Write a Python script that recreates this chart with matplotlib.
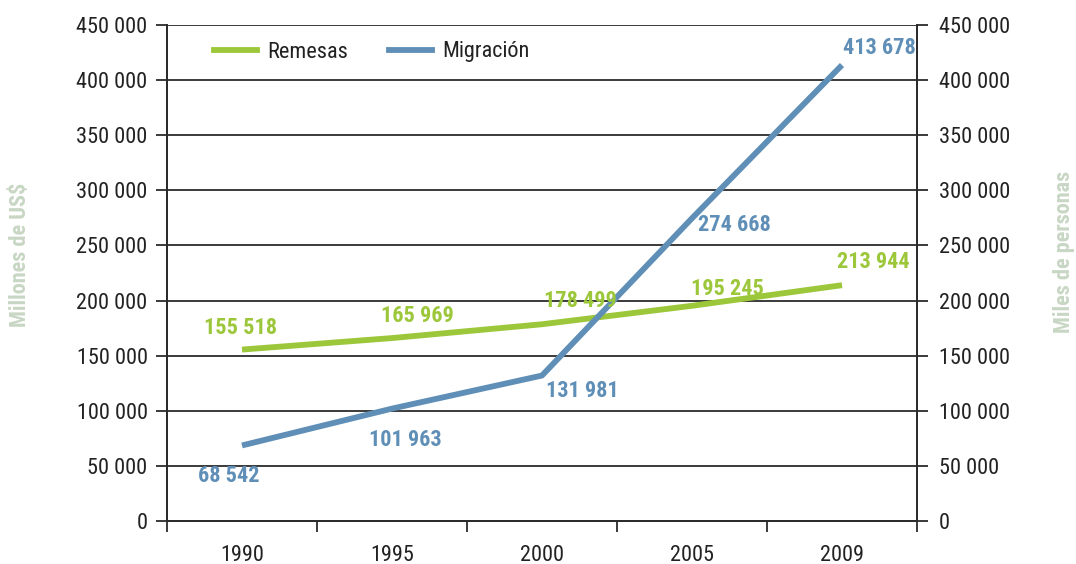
import matplotlib
matplotlib.use("Agg")
import matplotlib.pyplot as plt
from matplotlib.ticker import FuncFormatter, FixedLocator
from matplotlib.lines import Line2D

plt.rcParams['font.family'] = ['Roboto Condensed', 'DejaVu Sans']

years = ["1990", "1995", "2000", "2005", "2009"]
remesas = [155518, 165969, 178499, 195245, 213944]
migracion = [68542, 101963, 131981, 274668, 413678]
yticks = [0, 50000, 100000, 150000, 200000, 250000, 300000, 350000, 400000, 450000]

GREEN = "#9cc73a"
BLUE = "#5f8fb7"
AXLBL = "#c8d6c4"
GRID = "#2b2b2b"
TXT = "#222222"

def fmt(v, pos=None):
    return f"{int(v):,}".replace(",", " ")

W, H = 1076, 564
fig = plt.figure(figsize=(W / 100, H / 100), dpi=100)
ax = fig.add_axes([167 / W, 1 - 521 / H, 750 / W, 496 / H])
ax2 = ax.twinx()

x = list(range(len(years)))
ax.set_xlim(-0.5, len(years) - 0.5)
ax.set_ylim(0, 450000)
ax2.set_ylim(0, 450000)

for yv in yticks[1:]:
    ax.axhline(yv, color=GRID, lw=1.3, zorder=1)

ax.plot(x, remesas, color=GREEN, lw=4.2, solid_capstyle='butt', zorder=3)
ax.plot(x, migracion, color=BLUE, lw=4.2, solid_capstyle='butt', zorder=3)

g_off = [(-2, 22), (25, 22), (38, 23), (35, 17), (31, 23)]
b_off = [(-13, -31), (13, -31), (40, -15), (42, -7), (37, 17)]
for i in x:
    ax.annotate(fmt(remesas[i]), (i, remesas[i]), xytext=g_off[i], textcoords='offset pixels',
                ha='center', va='center', color=GREEN, fontsize=16, fontweight='bold', zorder=4)
    ax.annotate(fmt(migracion[i]), (i, migracion[i]), xytext=b_off[i], textcoords='offset pixels',
                ha='center', va='center', color=BLUE, fontsize=16, fontweight='bold', zorder=4)

ax.set_yticks(yticks)
ax.yaxis.set_major_formatter(FuncFormatter(fmt))
ax2.set_yticks(yticks)
ax2.yaxis.set_major_formatter(FuncFormatter(fmt))

ax.set_xticks(x)
ax.set_xticklabels(years)
ax.xaxis.set_minor_locator(FixedLocator([i - 0.5 for i in range(len(years) + 1)]))
ax.tick_params(axis='x', which='major', length=0, pad=17, labelsize=16, colors=TXT)
ax.tick_params(axis='x', which='minor', length=8, width=1.3, direction='out', color=GRID)
ax.tick_params(axis='y', length=8, width=1.3, direction='out', labelsize=16, pad=6, colors=GRID, labelcolor=TXT)
ax2.tick_params(axis='y', length=8, width=1.3, direction='out', labelsize=16, pad=8, colors=GRID, labelcolor=TXT)

for a in (ax, ax2):
    a.spines['top'].set_visible(False)
    for s in ('left', 'right', 'bottom'):
        a.spines[s].set_color(GRID)
        a.spines[s].set_linewidth(1.3)

fig.text(20 / W, 1 - 255 / H, "Millones de US$", rotation=90, ha='center', va='center',
         color=AXLBL, fontsize=16, fontweight='bold')
fig.text(1064 / W, 1 - 252 / H, "Miles de personas", rotation=90, ha='center', va='center',
         color=AXLBL, fontsize=16, fontweight='bold')

handles = [Line2D([], [], color=GREEN, lw=4.2), Line2D([], [], color=BLUE, lw=4.2)]
fig.legend(handles, ["Remesas", "Migración"], loc='center left',
           bbox_to_anchor=(214 / W, 1 - 52 / H), bbox_transform=fig.transFigure,
           ncol=2, frameon=False, fontsize=16, handlelength=1.94, columnspacing=1.85,
           handletextpad=0.45, borderpad=0, borderaxespad=0, labelcolor=TXT)

fig.savefig("out.png", dpi=100)
